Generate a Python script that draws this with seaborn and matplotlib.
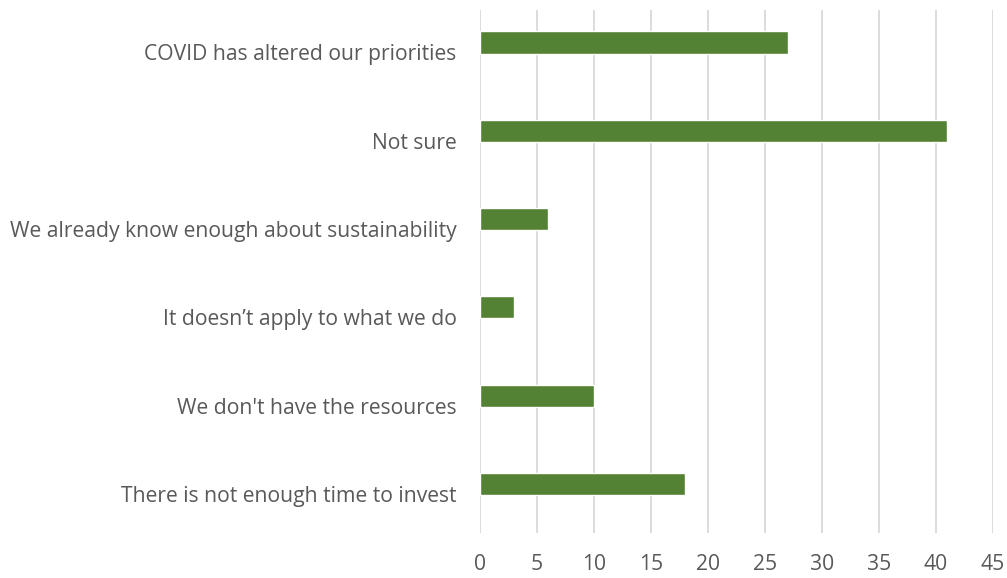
import matplotlib
matplotlib.use("Agg")
import matplotlib.pyplot as plt
import matplotlib.transforms as mtransforms
import seaborn as sns
import pandas as pd

reasons = [
    "COVID has altered our priorities",
    "Not sure",
    "We already know enough about sustainability",
    "It doesn\u2019t apply to what we do",
    "We don't have the resources",
    "There is not enough time to invest",
]
counts = [27, 41, 6, 3, 10, 18]
x_ticks = [0, 5, 10, 15, 20, 25, 30, 35, 40, 45]

df = pd.DataFrame({"reason": reasons, "count": counts})

sns.set_theme(style="white")
plt.rcParams["font.family"] = ["Open Sans", "DejaVu Sans"]

fig = plt.figure(figsize=(10.07, 5.78), dpi=100)
ax = fig.add_axes([480 / 1007, (578 - 533) / 578, (993 - 480) / 1007, 523 / 578])

sns.barplot(data=df, y="reason", x="count", orient="h", color="#548235",
            saturation=1, width=0.25, ax=ax, zorder=3)

ax.set_xlim(0, 45)
ax.set_ylim(5.555, -0.368)
ax.set_xticks(x_ticks)
ax.set_xticklabels([str(t) for t in x_ticks])
ax.xaxis.grid(True, color="#d9d9d9", linewidth=1.3, zorder=0)
ax.yaxis.grid(False)
for s in ax.spines.values():
    s.set_visible(False)
ax.set_xlabel("")
ax.set_ylabel("")
ax.tick_params(axis="both", length=0, colors="#595959", labelsize=15.2)
ax.tick_params(axis="x", pad=15)
ax.tick_params(axis="y", pad=17)

# category labels sit slightly below the bar centres
shift = mtransforms.ScaledTranslation(0, -0.10, fig.dpi_scale_trans)
for lbl in ax.get_yticklabels():
    lbl.set_transform(lbl.get_transform() + shift)

fig.savefig("out.png", dpi=100)
